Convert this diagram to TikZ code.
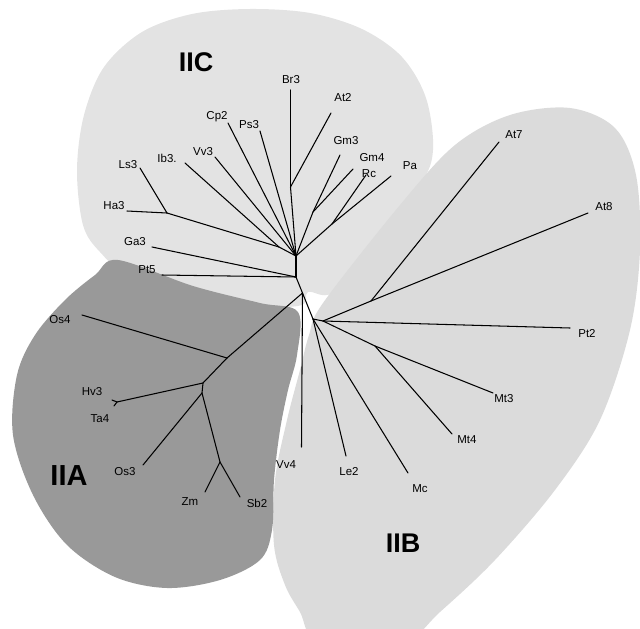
\documentclass[tikz,border=0pt]{standalone}
\usepackage{fontspec}
\setmainfont{Liberation Sans}
\definecolor{grpA}{gray}{0.60}
\definecolor{grpB}{gray}{0.86}
\definecolor{grpC}{gray}{0.89}
\begin{document}
\begin{tikzpicture}[x=1pt, y=-1pt, line width=1.05pt, line cap=round,
            foglia/.style = {font=\fontsize{11.5}{12}\selectfont, inner sep=0pt},
            gruppo/.style = {font=\fontsize{27}{30}\selectfont\bfseries, inner sep=0pt},
            zona/.style = {draw=none, tension=0.55}]

           \clip (0,0) rectangle (640,629);

           %zone colorate
           \fill[grpC, zona] plot[smooth cycle] coordinates {(250,9) (310,13) (362,29) (402,57) (426,98)
               (433,150) (420,185) (370,250) (332,293) (308,292) (298,306) (220,305) (130,275)
               (100,252) (83,225) (77,170) (84,115) (104,67) (142,32) (192,14)};
           \fill[grpB, zona] plot[smooth cycle] coordinates {(323,303) (400,205) (455,145) (510,115)
               (570,108) (615,128) (636,175) (640,250) (630,330) (600,420) (555,490) (495,560)
               (440,612) (400,645) (320,645) (300,612) (285,585) (274,545) (275,480) (287,420)
               (300,370) (309,335)};
           \fill[grpA, zona] plot[smooth cycle] coordinates {(118,260) (193,286) (260,303) (298,312)
               (297,355) (288,390) (280,430) (274,480) (272,530) (260,560) (220,580) (167,588)
               (115,577) (67,545) (33,495) (13,435) (17,375) (35,335) (65,300) (95,275)};

           %nodi interni
           \coordinate (h) at (296,256);
           \coordinate (h1) at (279,247);
           \coordinate (hls) at (167,213);
           \coordinate (hbr) at (290.5,187);
           \coordinate (hgm) at (313,212);
           \coordinate (hrc) at (332,224);
           \coordinate (p) at (296,277);
           \coordinate (r) at (302.5,293);
           \coordinate (a1) at (227,358);
           \coordinate (a2) at (203,383);
           \coordinate (a3) at (202,393);
           \coordinate (a4) at (220,462);
           \coordinate (ahv) at (117,402);
           \coordinate (q) at (313,319);
           \coordinate (q2) at (323,321);
           \coordinate (b78) at (371,301);
           \coordinate (bmt) at (375,346);

           %punte
           \coordinate (tbr3) at (290.5,90);
           \coordinate (tat2) at (331,113);
           \coordinate (tcp2) at (228,123);
           \coordinate (tps3) at (260,131);
           \coordinate (tgm3) at (340,155);
           \coordinate (tgm4) at (353,169);
           \coordinate (trc) at (366,175);
           \coordinate (tpa) at (391,176);
           \coordinate (tvv3) at (215,157);
           \coordinate (tib3) at (185,163);
           \coordinate (tls3) at (140,168);
           \coordinate (tha3) at (127,211);
           \coordinate (tga3) at (152,247);
           \coordinate (tpt5) at (162,275);
           \coordinate (tos4) at (82,315);
           \coordinate (thv3) at (112,400);
           \coordinate (tta4) at (114,406);
           \coordinate (tos3) at (143,465);
           \coordinate (tzm) at (205,492);
           \coordinate (tsb2) at (240,497);
           \coordinate (tvv4) at (301.5,447);
           \coordinate (tle2) at (346,456);
           \coordinate (tmc) at (408,473);
           \coordinate (tmt4) at (452,434);
           \coordinate (tmt3) at (493,393);
           \coordinate (tpt2) at (570,328);
           \coordinate (tat8) at (588,213);
           \coordinate (tat7) at (499,142);

           %rami
           \foreach \a/\b in {h/h1, h1/hls, hls/tha3, hls/tls3, h1/tib3, h/tvv3, h/tcp2, h/tps3,
               h/hbr, hbr/tbr3, hbr/tat2, h/hgm, hgm/tgm3, hgm/tgm4, h/hrc, hrc/trc, hrc/tpa,
               h/p, p/tga3, p/tpt5, p/r, r/a1, a1/tos4, a1/a2, a2/ahv, ahv/thv3, ahv/tta4,
               a2/a3, a3/tos3, a3/a4, a4/tzm, a4/tsb2, r/tvv4, r/q, q/tle2, q/tmc, q/q2,
               q2/b78, b78/tat7, b78/tat8, q2/tpt2, q2/bmt, bmt/tmt3, bmt/tmt4}
               \draw (\a) -- (\b);

           %etichette
           \node[foglia] (lbr3) at (291,80) {Br3};
           \node[foglia] (lat2) at (343,98) {At2};
           \node[foglia] (lcp2) at (217,117) {Cp2};
           \node[foglia] (lps3) at (249,125) {Ps3};
           \node[foglia] (lgm3) at (346,141) {Gm3};
           \node[foglia] (lgm4) at (372,158) {Gm4};
           \node[foglia] (lrc) at (369,174) {Rc};
           \node[foglia] (lpa) at (410,166) {Pa};
           \node[foglia] (lvv3) at (203,152) {Vv3};
           \node[foglia] (lib3) at (167,158) {Ib3.};
           \node[foglia] (lls3) at (128,165) {Ls3};
           \node[foglia] (lha3) at (114,206) {Ha3};
           \node[foglia] (lga3) at (135,242) {Ga3};
           \node[foglia] (lpt5) at (147,270) {Pt5};
           \node[foglia] (los4) at (60,320) {Os4};
           \node[foglia] (lhv3) at (92,392) {Hv3};
           \node[foglia] (lta4) at (100,419) {Ta4};
           \node[foglia] (los3) at (125,472) {Os3};
           \node[foglia] (lzm) at (190,502) {Zm};
           \node[foglia] (lsb2) at (257,503) {Sb2};
           \node[foglia] (lvv4) at (286,465) {Vv4};
           \node[foglia] (lle2) at (349,472) {Le2};
           \node[foglia] (lmc) at (420,489) {Mc};
           \node[foglia] (lmt4) at (467,440) {Mt4};
           \node[foglia] (lmt3) at (504,399) {Mt3};
           \node[foglia] (lpt2) at (587,334) {Pt2};
           \node[foglia] (lat8) at (604,207) {At8};
           \node[foglia] (lat7) at (514,135) {At7};

           \node[gruppo] (gc) at (196,62) {IIC};
           \node[gruppo] (gb) at (403,543) {IIB};
           \node[gruppo, font=\fontsize{29}{32}\selectfont\bfseries] (ga) at (69,476) {IIA};
        \end{tikzpicture}
\end{document}
